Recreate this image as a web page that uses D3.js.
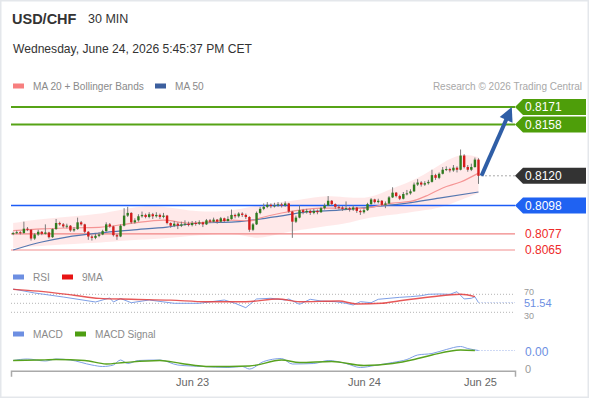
<!DOCTYPE html>
<html><head><meta charset="utf-8">
<script src="https://cdn.jsdelivr.net/npm/d3@7"></script>
<style>body{margin:0;background:#fff}svg{display:block;font-family:"Liberation Sans",Arial,sans-serif}</style>
</head><body><svg id="c" width="590" height="400"></svg>
<script>
// ---------- DATA ----------
const opens = [0.80770,0.80775,0.80782,0.80776,0.80808,0.80800,0.80735,0.80765,0.80785,0.80770,
0.80780,0.80745,0.80805,0.80850,0.80840,0.80825,0.80830,0.80795,0.80805,0.80855,
0.80840,0.80785,0.80750,0.80740,0.80755,0.80765,0.80790,0.80840,0.80825,0.80760,
0.80750,0.80830,0.80905,0.80925,0.80855,0.80870,0.80900,0.80910,0.80895,0.80915,
0.80900,0.80910,0.80895,0.80905,0.80850,0.80830,0.80845,0.80830,0.80840,0.80845,
0.80835,0.80850,0.80845,0.80855,0.80840,0.80870,0.80860,0.80875,0.80860,0.80885,
0.80865,0.80880,0.80910,0.80900,0.80920,0.80910,0.80895,0.80800,0.80840,0.80925,
0.80955,0.80970,0.80985,0.80975,0.80980,0.80988,0.80980,0.80995,0.80935,0.80860,
0.80890,0.80945,0.80930,0.80940,0.80925,0.80940,0.80930,0.80960,0.80980,0.81015,
0.80990,0.80970,0.80965,0.80955,0.80960,0.80950,0.80965,0.80940,0.80930,0.80945,
0.80990,0.81025,0.81005,0.81015,0.80985,0.80995,0.81040,0.81075,0.81050,0.81030,
0.81065,0.81070,0.81085,0.81135,0.81150,0.81135,0.81145,0.81155,0.81205,0.81185,
0.81215,0.81245,0.81250,0.81240,0.81260,0.81245,0.81350,0.81265,0.81245,0.81265,
0.81320];
const closes = [0.80775,0.80782,0.80776,0.80808,0.80800,0.80735,0.80765,0.80785,0.80770,0.80780,
0.80745,0.80805,0.80850,0.80840,0.80825,0.80830,0.80795,0.80805,0.80855,0.80840,
0.80785,0.80750,0.80740,0.80755,0.80765,0.80790,0.80840,0.80825,0.80760,0.80750,
0.80830,0.80905,0.80925,0.80855,0.80870,0.80900,0.80910,0.80895,0.80915,0.80900,
0.80910,0.80895,0.80905,0.80850,0.80830,0.80845,0.80830,0.80840,0.80845,0.80835,
0.80850,0.80845,0.80855,0.80840,0.80870,0.80860,0.80875,0.80860,0.80885,0.80865,
0.80880,0.80910,0.80900,0.80920,0.80910,0.80895,0.80800,0.80840,0.80925,0.80955,
0.80970,0.80985,0.80975,0.80980,0.80988,0.80980,0.80995,0.80935,0.80860,0.80890,
0.80945,0.80930,0.80940,0.80925,0.80940,0.80930,0.80960,0.80980,0.81015,0.80990,
0.80970,0.80965,0.80955,0.80960,0.80950,0.80965,0.80940,0.80930,0.80945,0.80990,
0.81025,0.81005,0.81015,0.80985,0.80995,0.81040,0.81075,0.81050,0.81030,0.81065,
0.81070,0.81085,0.81135,0.81150,0.81135,0.81145,0.81155,0.81205,0.81185,0.81215,
0.81245,0.81250,0.81240,0.81260,0.81245,0.81350,0.81265,0.81245,0.81265,0.81320,
0.81200];
const highs = [0.80785,0.80795,0.80790,0.80860,0.80820,0.80805,0.80775,0.80800,0.80790,0.80840,
0.80785,0.80810,0.80880,0.80860,0.80850,0.80845,0.80835,0.80820,0.80890,0.80865,
0.80845,0.80790,0.80760,0.80770,0.80780,0.80800,0.80855,0.80850,0.80830,0.80770,
0.80840,0.80960,0.80970,0.80930,0.80885,0.80915,0.80935,0.80920,0.80930,0.80925,
0.80930,0.80920,0.80925,0.80910,0.80855,0.80865,0.80855,0.80860,0.80870,0.80860,
0.80865,0.80865,0.80870,0.80860,0.80880,0.80880,0.80890,0.80880,0.80895,0.80890,
0.80900,0.80950,0.80920,0.80930,0.80930,0.80920,0.80900,0.80850,0.80935,0.80970,
0.80995,0.81005,0.80995,0.81000,0.81005,0.81000,0.81010,0.81000,0.80940,0.80905,
0.80980,0.80955,0.80955,0.80950,0.80955,0.80950,0.80970,0.80995,0.81050,0.81020,
0.80995,0.80985,0.80975,0.81010,0.80970,0.80980,0.80970,0.80950,0.80960,0.81000,
0.81035,0.81030,0.81030,0.81020,0.81010,0.81050,0.81115,0.81080,0.81060,0.81080,
0.81095,0.81100,0.81150,0.81175,0.81160,0.81160,0.81170,0.81245,0.81215,0.81225,
0.81265,0.81270,0.81260,0.81280,0.81270,0.81395,0.81360,0.81280,0.81290,0.81335,
0.81330];
const lows = [0.80760,0.80768,0.80765,0.80770,0.80790,0.80720,0.80725,0.80755,0.80760,0.80765,
0.80735,0.80740,0.80800,0.80830,0.80815,0.80810,0.80785,0.80785,0.80800,0.80830,
0.80775,0.80725,0.80720,0.80730,0.80745,0.80760,0.80785,0.80815,0.80750,0.80725,
0.80745,0.80825,0.80895,0.80845,0.80845,0.80860,0.80890,0.80885,0.80885,0.80880,
0.80890,0.80880,0.80885,0.80840,0.80815,0.80820,0.80805,0.80820,0.80830,0.80825,
0.80825,0.80830,0.80835,0.80820,0.80835,0.80850,0.80855,0.80845,0.80850,0.80855,
0.80860,0.80875,0.80885,0.80890,0.80895,0.80880,0.80785,0.80790,0.80835,0.80915,
0.80945,0.80960,0.80960,0.80965,0.80970,0.80965,0.80970,0.80925,0.80740,0.80850,
0.80885,0.80915,0.80920,0.80910,0.80915,0.80915,0.80925,0.80950,0.80975,0.80980,
0.80955,0.80950,0.80940,0.80945,0.80935,0.80940,0.80925,0.80910,0.80920,0.80940,
0.80985,0.80995,0.80995,0.80975,0.80960,0.80990,0.81035,0.81040,0.81020,0.81025,
0.81055,0.81060,0.81080,0.81125,0.81120,0.81125,0.81135,0.81150,0.81170,0.81175,
0.81210,0.81235,0.81225,0.81230,0.81225,0.81240,0.81255,0.81230,0.81235,0.81260,
0.81140];

const bandIdx = [0,10,24,33,41,52,63,68,75,80,88,94,100,106,111,116,120,125,130];
const bandUpper = [0.80850,0.80887,0.80910,0.80969,0.80984,0.80924,0.80946,0.80984,0.81006,0.81021,0.81058,0.81035,0.81035,0.81110,0.81154,0.81228,0.81295,0.81369,0.81339];
const bandLower = [0.80665,0.80687,0.80702,0.80724,0.80731,0.80761,0.80776,0.80724,0.80776,0.80798,0.80830,0.80850,0.80895,0.80910,0.80932,0.80946,0.80969,0.81021,0.81072];

const ma20Idx = [0,8,15,24,33,42,49,55,61,66,69,75,80,86,91,97,106,111,116,120,125,130];
const ma20 = [0.80793,0.80806,0.80813,0.80818,0.80848,0.80872,0.80850,0.80858,0.80872,0.80865,0.80887,0.80924,0.80946,0.80961,0.80961,0.80958,0.80998,0.81010,0.81058,0.81110,0.81154,0.81220];

const ma50Idx = [0,8,15,24,33,43,52,62,73,82,91,100,110,119,130];
const ma50 = [0.80650,0.80709,0.80746,0.80776,0.80798,0.80820,0.80850,0.80858,0.80895,0.80932,0.80946,0.80969,0.80998,0.81035,0.81080];

const resistanceLevels = [0.8171, 0.8158];
const lastPrice = 0.8120;
const pivotLevel = 0.8098;
const supportLevels = [0.8077, 0.8065];

const rsiIdx = [0,6,14,23,27,28,30,33,38,45,52,59,62,65,68,72,76,77,80,83,86,90,93,95,97,100,102,105,108,111,114,116,119,122,124,126,128,129,130];
const rsi = [81.8,72.9,64,52.9,61.8,52.9,60.7,51.3,57.3,50,50,57.3,50,40.2,59.6,61.1,57.3,59.6,47.8,58.9,55.1,53.6,50,46.2,53.6,51.3,58.9,61.1,63.3,64.7,66.9,70,70.7,70,75.8,59.6,61.1,64.7,51.54];
const rsiMaIdx = [0,7,17,24,33,44,54,65,74,80,91,96,103,108,117,125,129];
const rsiMa = [81,77,68,61,59,57,53.5,53.5,59.5,53.5,55,48.5,50,55.8,64.7,70,64.7];
const rsiLevels = [70, 50, 30];

const macdIdx = [0,4,9,12,16,22,25,28,30,32,35,41,46,53,60,64,66,70,75,78,84,88,93,97,101,106,110,113,117,121,125,127,130];
const macd = [0.00019,0.00022,0.00018,0.00022,0.00020,0.00010,0.00007,0.00010,0.00020,0.00013,0.00019,0.00020,0.00010,0.00007,0.00005,0.00007,0.00002,0.00017,0.00023,0.00012,0.00013,0.00019,0.00013,0.00005,0.00009,0.00015,0.00021,0.00030,0.00033,0.00041,0.00047,0.00043,0.00039];
const signalIdx = [0,7,12,20,26,31,41,47,55,66,75,80,89,98,106,112,117,125,129];
const signal = [0.00019,0.00020,0.00021,0.00019,0.00012,0.00015,0.00019,0.00013,0.00007,0.00008,0.00020,0.00015,0.00017,0.00009,0.00013,0.00021,0.00030,0.00040,0.00039];

const dayTickIdx = [50, 98, 130.4];
const dayLabels = ["Jun 23", "Jun 24", "Jun 25"];
const arrowTargetIdx = 139.3;

// ---------- DRAW ----------
const svg = d3.select("#c");
const FONT = '"Liberation Sans",Arial,sans-serif';
svg.append("rect").attr("x",0.75).attr("y",0.75).attr("width",587.5).attr("height",396.5)
  .attr("fill","#fff").attr("stroke","#e4e7eb").attr("stroke-width",1.5);

const x = d3.scaleLinear().domain([-0.6, 140.2]).range([11, 515]);
const y = d3.scaleLinear().domain([0.8065, 0.8171]).range([250, 107]);
const yR = d3.scaleLinear().domain([30, 70]).range([312.3, 294.3]);
const yM = d3.scaleLinear().domain([0, 0.0004]).range([370, 350]);

// header
svg.append("text").attr("x",12).attr("y",24).attr("font-size",14.5).attr("font-weight","bold").attr("fill","#333").text("USD/CHF");
svg.append("text").attr("x",88).attr("y",23).attr("font-size",12.5).attr("fill","#333").text("30 MIN");
svg.append("text").attr("x",13).attr("y",53).attr("font-size",12.1).attr("fill","#333").text("Wednesday, June 24, 2026 5:45:37 PM CET");

function legend(items, ly){
  items.forEach(it=>{
    svg.append("rect").attr("x",it.x).attr("y",ly-2.5).attr("width",11).attr("height",5).attr("fill",it.c);
    svg.append("text").attr("x",it.x+20).attr("y",ly+4).attr("font-size",10.1).attr("fill","#8a8a8a").text(it.t);
  });
}
legend([{x:13,c:"#f77f7f",t:"MA 20 + Bollinger Bands"},{x:155,c:"#3c5f9e",t:"MA 50"}], 86);
svg.append("text").attr("x",582).attr("y",90).attr("text-anchor","end").attr("font-size",10).attr("fill","#a8a8a8").text("Research \u00a9 2026 Trading Central");

// bollinger band
const bandArea = d3.area().x((d,i)=>x(bandIdx[i])).y0((d,i)=>y(bandLower[i])).y1((d,i)=>y(bandUpper[i])).curve(d3.curveBasis);
svg.append("path").datum(bandIdx).attr("d",bandArea).attr("fill","#ffd3d3").attr("opacity",0.5);

// horizontal levels
resistanceLevels.forEach(v=>{
  svg.append("line").attr("x1",11).attr("x2",515).attr("y1",y(v)).attr("y2",y(v)).attr("stroke","#56a316").attr("stroke-width",2);
});
svg.append("line").attr("x1",11).attr("x2",515).attr("y1",y(pivotLevel)).attr("y2",y(pivotLevel)).attr("stroke","#1c5cf6").attr("stroke-width",1.3);
svg.append("line").attr("x1",11).attr("x2",515).attr("y1",y(supportLevels[0])).attr("y2",y(supportLevels[0])).attr("stroke","#f08585").attr("stroke-width",1.2);
svg.append("line").attr("x1",11).attr("x2",515).attr("y1",y(supportLevels[1])).attr("y2",y(supportLevels[1])).attr("stroke","#f6b3b3").attr("stroke-width",1.5);
svg.append("line").attr("x1",x(130)+3).attr("x2",515).attr("y1",y(lastPrice)).attr("y2",y(lastPrice)).attr("stroke","#555").attr("stroke-width",1).attr("stroke-dasharray","1,3");

// moving averages
const lineFrom = (idx, vals, ys) => d3.line().x((d,i)=>x(idx[i])).y((d,i)=>ys(vals[i])).curve(d3.curveMonotoneX);
svg.append("path").datum(ma50Idx).attr("d",lineFrom(ma50Idx,ma50,y)).attr("fill","none").attr("stroke","#5577b0").attr("stroke-width",1.2);
svg.append("path").datum(ma20Idx).attr("d",lineFrom(ma20Idx,ma20,y)).attr("fill","none").attr("stroke","#f59595").attr("stroke-width",1.2);

// candles
const cw = 2.4;
const cg = svg.append("g");
closes.forEach((c,i)=>{
  const o = opens[i], up = c >= o;
  cg.append("line").attr("x1",x(i)).attr("x2",x(i)).attr("y1",y(highs[i])).attr("y2",y(lows[i])).attr("stroke","#7a7a7a").attr("stroke-width",1);
  const top = y(Math.max(o,c)), bot = y(Math.min(o,c));
  cg.append("rect").attr("x",x(i)-cw/2).attr("y",top).attr("width",cw).attr("height",Math.max(1,bot-top))
    .attr("fill", up ? "#2f7b1f" : "#d41c1c");
});

// arrow
(function(){
  const x0 = x(130)+3, y0 = y(lastPrice), x1 = x(arrowTargetIdx), y1 = y(resistanceLevels[0]);
  const dx = x1-x0, dy = y1-y0, L = Math.hypot(dx,dy), ux = dx/L, uy = dy/L, px = -uy, py = ux;
  const hl = 14, hw = 7;
  const bx = x1-ux*hl, by = y1-uy*hl;
  svg.append("line").attr("x1",x0).attr("y1",y0).attr("x2",bx+ux*2).attr("y2",by+uy*2).attr("stroke","#2f5ea6").attr("stroke-width",4);
  svg.append("path").attr("d",`M${x1},${y1}L${bx+px*hw},${by+py*hw}L${bx-px*hw},${by-py*hw}Z`).attr("fill","#2f5ea6");
})();

// right labels
function tag(v, fill){
  const cy = y(v);
  svg.append("path").attr("d",`M515,${cy}L523,${cy-8}L586,${cy-8}L586,${cy+8}L523,${cy+8}Z`).attr("fill",fill);
  svg.append("text").attr("x",525).attr("y",cy+4.3).attr("font-size",12).attr("fill","#fff").text(v.toFixed(4));
}
resistanceLevels.forEach(v=>tag(v,"#4e9e0a"));
tag(lastPrice,"#333333");
tag(pivotLevel,"#1f62f2");
supportLevels.forEach(v=>{
  svg.append("text").attr("x",525).attr("y",y(v)+4.3).attr("font-size",12).attr("fill","#ee2a2a").text(v.toFixed(4));
});

// RSI panel
legend([{x:13,c:"#6d8fe2",t:"RSI"},{x:62,c:"#e81414",t:"9MA"}], 277);
rsiLevels.forEach(v=>{
  svg.append("line").attr("x1",11).attr("x2",515).attr("y1",yR(v)).attr("y2",yR(v)).attr("stroke","#b5b5b5").attr("stroke-dasharray","1,2");
});
svg.append("path").attr("d",d3.line().x((d,i)=>x(rsiIdx[i])).y((d,i)=>yR(rsi[i]))(rsiIdx)).attr("fill","none").attr("stroke","#7e9fe6").attr("stroke-width",1);
svg.append("path").attr("d",lineFrom(rsiMaIdx,rsiMa,yR)(rsiMaIdx)).attr("fill","none").attr("stroke","#e33b3b").attr("stroke-width",1.4).attr("opacity",0.85);
const rsiLast = rsi[rsi.length-1];
svg.append("line").attr("x1",x(130)).attr("x2",515).attr("y1",yR(rsiLast)).attr("y2",yR(rsiLast)).attr("stroke","#9fb4ea").attr("stroke-dasharray","1,2");
svg.append("text").attr("x",524).attr("y",yR(70)+0.8).attr("font-size",9).attr("fill","#999").text("70");
svg.append("text").attr("x",524).attr("y",yR(30)+6.6).attr("font-size",9).attr("fill","#999").text("30");
svg.append("text").attr("x",524).attr("y",yR(rsiLast)+4.6).attr("font-size",11).attr("fill","#6d8fe2").text(rsiLast.toFixed(2));

// MACD panel
legend([{x:13,c:"#6d8fe2",t:"MACD"},{x:75,c:"#4e9e12",t:"MACD Signal"}], 334);
svg.append("path").attr("d",d3.line().x((d,i)=>x(macdIdx[i])).y((d,i)=>yM(macd[i])).curve(d3.curveMonotoneX)(macdIdx)).attr("fill","none").attr("stroke","#7e9fe6").attr("stroke-width",1);
svg.append("path").attr("d",lineFrom(signalIdx,signal,yM)(signalIdx)).attr("fill","none").attr("stroke","#58a21e").attr("stroke-width",1.3);
const macdLast = macd[macd.length-1];
svg.append("line").attr("x1",x(130)).attr("x2",515).attr("y1",yM(macdLast)).attr("y2",yM(macdLast)).attr("stroke","#9fb4ea").attr("stroke-dasharray","1,2");
svg.append("text").attr("x",525).attr("y",yM(macdLast)+5).attr("font-size",12).attr("fill","#6d8fe2").text(macdLast.toFixed(2));
svg.append("text").attr("x",525).attr("y",yM(0)+3).attr("font-size",11).attr("fill","#999").text("0");

// bottom axis
const ax = svg.append("g").attr("transform",`translate(0,${yM(0)+0.7})`)
  .call(d3.axisBottom(x).tickValues(dayTickIdx).tickFormat((d,i)=>dayLabels[i]).tickSizeInner(0).tickSizeOuter(6).tickPadding(8));
ax.select(".domain").attr("stroke","#aaa").attr("stroke-width",1.5);
ax.selectAll("text").attr("fill","#666").attr("font-size",11).attr("font-family",FONT);
</script></body></html>
